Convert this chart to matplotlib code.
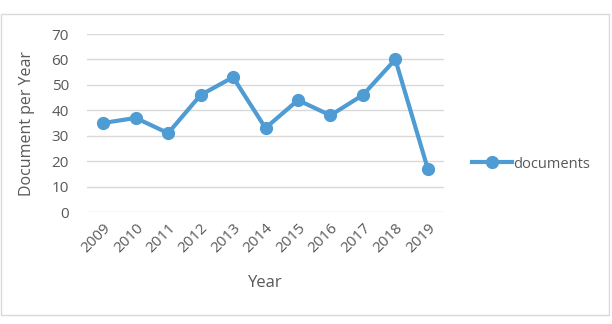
import matplotlib.pyplot as plt
from matplotlib.patches import Rectangle

years = ['2009', '2010', '2011', '2012', '2013', '2014', '2015', '2016', '2017', '2018', '2019']
documents = [35, 37, 31, 46, 53, 33, 44, 38, 46, 60, 17]

blue = '#4f9bd3'
grey = '#595959'

plt.rcParams['font.family'] = ['Open Sans', 'DejaVu Sans']

fig = plt.figure(figsize=(6.12, 3.24), dpi=100)
# outer chart frame like Excel
fig.patches.append(Rectangle((1 / 612, 9 / 324), 608 / 612, 301 / 324, transform=fig.transFigure,
                             fill=False, edgecolor='#d9d9d9', linewidth=1))

ax = fig.add_axes([87 / 612, 1 - 212 / 324, 357 / 612, 178 / 324])
x = range(len(years))
ax.plot(x, documents, color=blue, linewidth=3, marker='o', markersize=8.5, label='documents')

ax.set_xlim(-0.5, len(years) - 0.5)
ax.set_ylim(0, 70)
ax.set_yticks(range(0, 80, 10))
ax.set_xticks(list(x))
ax.set_xticklabels(years, rotation=45, ha='right', rotation_mode='anchor')
ax.grid(axis='y', color='#d9d9d9', linewidth=1)
ax.set_axisbelow(True)
for s in ax.spines.values():
    s.set_visible(False)
ax.tick_params(length=0, colors=grey, labelsize=11)
ax.tick_params(axis='y', pad=13)
ax.tick_params(axis='x', pad=6)

ax.set_ylabel('Document per Year', color=grey, fontsize=11.5, labelpad=12)
ax.set_xlabel('Year', color=grey, fontsize=12, labelpad=14)

leg = fig.legend(loc='center left', bbox_to_anchor=(459 / 612, 1 - 164 / 324), frameon=False,
                 fontsize=10.5, handlelength=2.7, handletextpad=0.1)
for t in leg.get_texts():
    t.set_color(grey)

fig.savefig('out.png', dpi=100)
